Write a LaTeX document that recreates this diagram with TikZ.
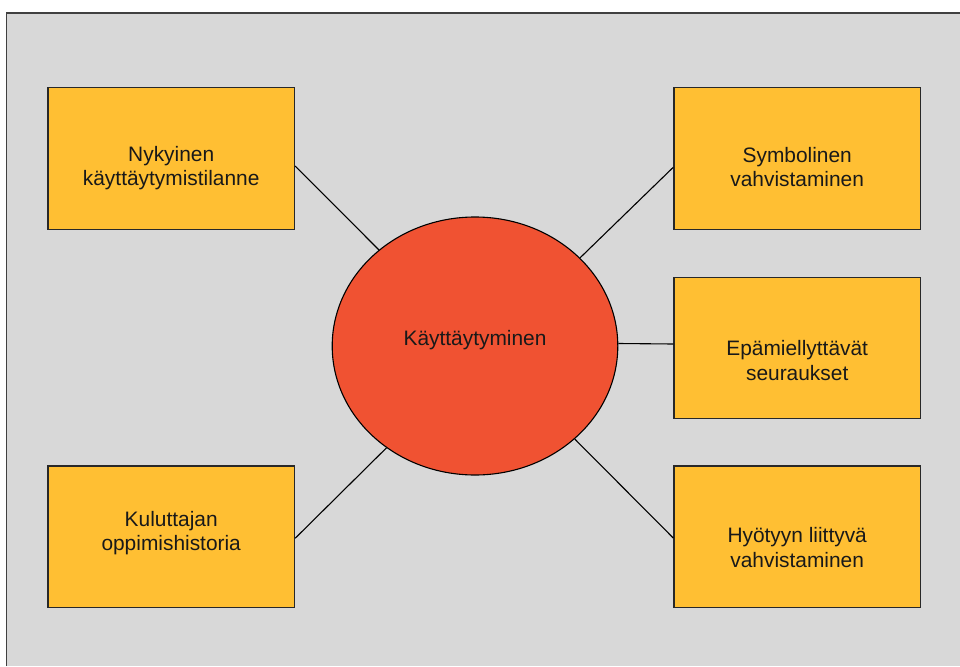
\documentclass[tikz,border=0pt]{standalone}
\usepackage{fontspec}
\setmainfont{Liberation Sans}
\usetikzlibrary{shapes.geometric}
\definecolor{bg}{RGB}{216,216,216}
\definecolor{boxfill}{RGB}{255,191,51}
\definecolor{boxline}{RGB}{40,40,40}
\definecolor{ellfill}{RGB}{240,82,50}
\definecolor{framec}{RGB}{64,64,64}
\begin{document}
\begin{tikzpicture}[x=1pt,y=-1pt,
  boxnode/.style={draw=boxline, line width=1.4pt, fill=boxfill, minimum width=246.5pt, minimum height=141.5pt, inner sep=0pt},
  ellnode/.style={ellipse, draw=black, line width=1.1pt, fill=ellfill, minimum width=285.6pt, minimum height=258pt, inner sep=0pt},
  txt/.style={align=center, font=\fontsize{20.9}{24.8}\selectfont, text=black!90, inner sep=0pt},
  link/.style={draw=black, line width=1.1pt}]
\fill[white] (0,0) rectangle (960,666);
\useasboundingbox (0,0) rectangle (960,666);
\fill[bg] (6.5,13) rectangle (960,666);
\draw[framec, line width=1.5pt] (6.5,666) -- (6.5,13) -- (960,13);
% boxes
\node[boxnode] (tl) at (171.2,158.5) {};
\node[boxnode] (tr) at (797.2,158.5) {};
\node[boxnode] (mr) at (797.2,348) {};
\node[boxnode] (br) at (797.2,536.8) {};
\node[boxnode] (bl) at (171.2,536.8) {};
\node[ellnode] (c) at (475,346) {};
% connectors
\draw[link] ([yshift=-7.5pt]tl.east) -- (c.135);
\draw[link] ([yshift=-8.8pt]tr.west) -- (c.40);
\draw[link] ([yshift=4pt]mr.west) -- (c.1);
\draw[link] ([yshift=-1.2pt]br.west) -- (c.317);
\draw[link] ([yshift=-1.5pt]bl.east) -- (c.229);
% texts
\node[txt] (tlt) at ([yshift=-9.5pt]tl.center) {Nykyinen\\käyttäytymistilanne};
\node[txt] (trt) at ([yshift=-8.5pt]tr.center) {Symbolinen\\vahvistaminen};
\node[txt] (mrt) at ([yshift=-12.5pt]mr.center) {Epämiellyttävät\\seuraukset};
\node[txt] (brt) at ([yshift=-10.5pt]br.center) {Hyötyyn liittyvä\\vahvistaminen};
\node[txt] (blt) at ([yshift=3.8pt]bl.center) {Kuluttajan\\oppimishistoria};
\node[txt] (ct) at ([yshift=6pt]c.center) {Käyttäytyminen};
\end{tikzpicture}
\end{document}
